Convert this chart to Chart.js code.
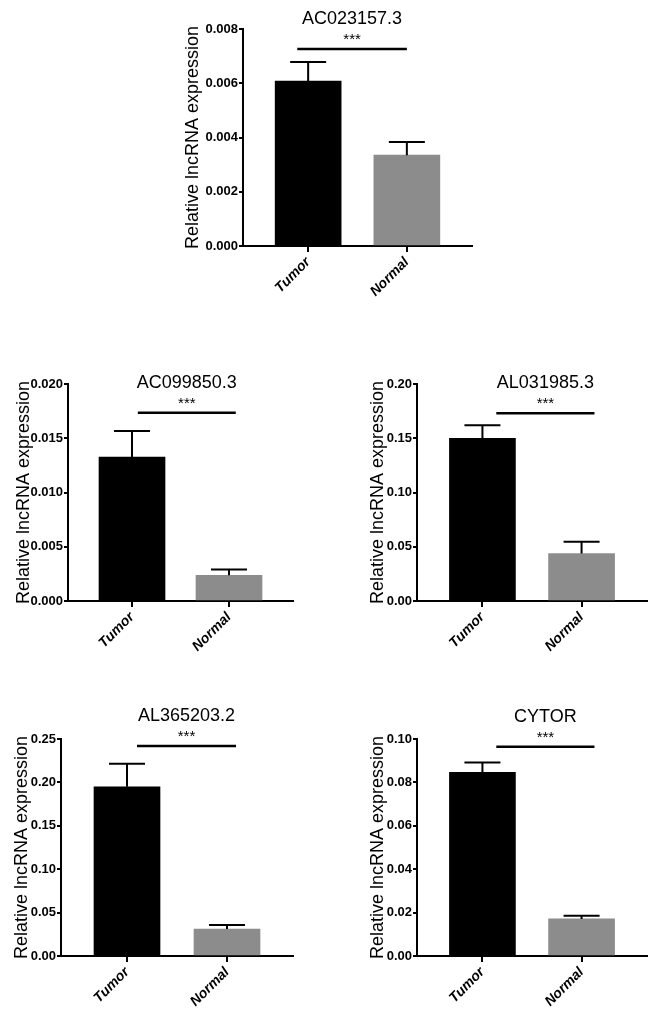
<!DOCTYPE html>
<html>
<head>
<meta charset="utf-8">
<script src="https://cdn.jsdelivr.net/npm/chart.js@4.4.0/dist/chart.umd.min.js"></script>
<style>
  html, body { margin: 0; padding: 0; background: #fff; }
  body { width: 671px; height: 1023px; position: relative; overflow: hidden; }
  canvas { position: absolute; }
</style>
</head>
<body>
<script>
// data
const titles = ["AC023157.3", "AC099850.3", "AL031985.3", "AL365203.2", "CYTOR"];
const groups = ["Tumor", "Normal"];
const tumorMean = [0.00608, 0.01326, 0.1499, 0.195, 0.0846];
const tumorSem = [0.0007, 0.0024, 0.012, 0.0265, 0.0046];
const normalMean = [0.00335, 0.00237, 0.0437, 0.0311, 0.0171];
const normalSem = [0.00048, 0.00053, 0.0108, 0.0047, 0.0015];
const yMax = [0.008, 0.020, 0.20, 0.25, 0.10];
const yStep = [0.002, 0.005, 0.05, 0.05, 0.02];
const yDecimals = [3, 3, 2, 2, 2];
const sigLevel = [0.00726, 0.01735, 0.173, 0.242, 0.0964];
const sigFrom = [0.89, 1.06, 1.14, 1.10, 1.14];
const sigTo = [2.0, 2.07, 2.13, 2.09, 2.13];
const sigLabel = "***";
const yTitle = "Relative lncRNA expression";

// plot area of each panel on the page: left, top, right, bottom
const panelBox = [
  [243, 29, 472, 246],
  [68, 384, 293, 601],
  [417, 384, 647, 601],
  [61, 739, 293, 956],
  [417, 739, 647, 956]
];
const titleGap = [50, 44, 39, 39, 39];

const AXIS_W = 75, PAD_TOP = 40, PAD_RIGHT = 12, XAXIS_H = 60;
const textFont = "'Liberation Sans', Arial, sans-serif";

const extrasPlugin = {
  id: "extras",
  afterDatasetsDraw(chart, args, opts) {
    const i = opts.panel;
    const c = chart.ctx;
    const xs = chart.scales.x, ys = chart.scales.y;
    c.save();
    c.strokeStyle = "#000";
    c.lineWidth = 2;
    // error bars (upper only)
    [[1, tumorMean[i], tumorSem[i]], [2, normalMean[i], normalSem[i]]].forEach(([xv, m, s]) => {
      const px = xs.getPixelForValue(xv);
      const y0 = ys.getPixelForValue(m);
      const y1 = ys.getPixelForValue(m + s);
      c.beginPath();
      c.moveTo(px, y0);
      c.lineTo(px, y1);
      c.moveTo(px - 18, y1);
      c.lineTo(px + 18, y1);
      c.stroke();
    });
    // significance bar
    const sy = ys.getPixelForValue(sigLevel[i]);
    const x0 = xs.getPixelForValue(sigFrom[i]);
    const x1 = xs.getPixelForValue(sigTo[i]);
    c.lineWidth = 2.5;
    c.beginPath();
    c.moveTo(x0, sy);
    c.lineTo(x1, sy);
    c.stroke();
    const mid = (x0 + x1) / 2;
    c.fillStyle = "#000";
    c.textAlign = "center";
    c.textBaseline = "alphabetic";
    c.font = "15px " + textFont;
    c.fillText(sigLabel, mid, sy - 5);
    c.font = "18px " + textFont;
    c.fillText(titles[i], mid, sy - 25);
    c.restore();
  }
};

titles.forEach((t, i) => {
  const [l, tp, r, b] = panelBox[i];
  const cv = document.createElement("canvas");
  const w = AXIS_W + (r - l) + PAD_RIGHT;
  const h = PAD_TOP + (b - tp) + XAXIS_H;
  cv.width = w;
  cv.height = h;
  cv.style.left = (l - AXIS_W) + "px";
  cv.style.top = (tp - PAD_TOP) + "px";
  cv.style.width = w + "px";
  cv.style.height = h + "px";
  document.body.appendChild(cv);

  new Chart(cv, {
    type: "bar",
    data: {
      datasets: [{
        data: [{ x: 1, y: tumorMean[i] }, { x: 2, y: normalMean[i] }],
        backgroundColor: ["#000000", "#8c8c8c"],
        borderWidth: 0,
        barThickness: 66
      }]
    },
    options: {
      responsive: false,
      animation: false,
      devicePixelRatio: 1,
      layout: { padding: { top: PAD_TOP, right: PAD_RIGHT, left: 0, bottom: 0 } },
      plugins: {
        legend: { display: false },
        tooltip: { enabled: false },
        extras: { panel: i }
      },
      scales: {
        x: {
          type: "linear",
          min: 0.34,
          max: 2.66,
          offset: false,
          afterBuildTicks: s => { s.ticks = [{ value: 1 }, { value: 2 }]; },
          afterFit: s => { s.height = XAXIS_H; },
          grid: { offset: false, drawOnChartArea: false, tickLength: 6, color: "#000", lineWidth: 2 },
          border: { display: true, color: "#000", width: 2 },
          ticks: {
            autoSkip: false,
            minRotation: 45,
            maxRotation: 45,
            padding: 2,
            color: "#000",
            font: { family: textFont, size: 14, weight: "bold", style: "italic" },
            callback: v => groups[v - 1]
          }
        },
        y: {
          min: 0,
          max: yMax[i],
          afterFit: s => { s.width = AXIS_W; },
          grid: { drawOnChartArea: false, tickLength: 4, color: "#000", lineWidth: 2 },
          border: { display: true, color: "#000", width: 2 },
          ticks: {
            stepSize: yStep[i],
            padding: 1,
            color: "#000",
            font: { family: textFont, size: 13, weight: "bold" },
            callback: v => Number(v).toFixed(yDecimals[i])
          },
          title: {
            display: true,
            text: yTitle,
            color: "#000",
            font: { family: textFont, size: 18 },
            padding: { top: AXIS_W - titleGap[i] - 10.8, bottom: 0 }
          }
        }
      }
    },
    plugins: [extrasPlugin]
  });
});
</script>
</body>
</html>
